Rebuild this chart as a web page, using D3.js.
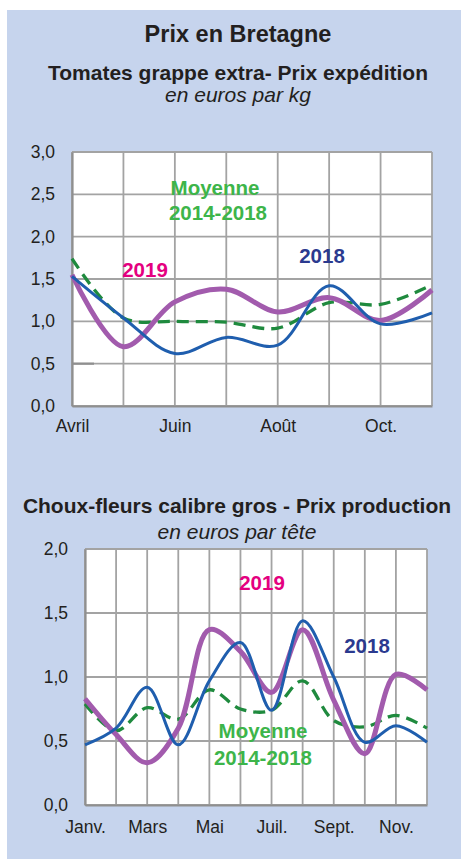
<!DOCTYPE html>
<html>
<head>
<meta charset="utf-8">
<script src="https://cdnjs.cloudflare.com/ajax/libs/d3/7.8.5/d3.min.js"></script>
<style>
  body { margin: 0; background: white; }
  text { font-family: "Liberation Sans", Arial, sans-serif; }
</style>
</head>
<body>
<svg id="chart" width="461" height="859"></svg>
<script>
  // --- data: tomates (avril -> nov.)
  let tomMonths = ["Avril", "Mai", "Juin", "Juil.", "Août", "Sept.", "Oct.", "Nov."];
  let tomLabels = ["Avril", "", "Juin", "", "Août", "", "Oct.", ""];
  let tom2019 = [1.55, 0.70, 1.23, 1.38, 1.11, 1.28, 1.01, 1.37];
  let tom2018 = [1.53, 1.04, 0.62, 0.81, 0.72, 1.42, 0.97, 1.10];
  let tomMoy  = [1.74, 1.04, 1.00, 0.99, 0.92, 1.22, 1.20, 1.43];
  let tomTicks = [0, 0.5, 1, 1.5, 2, 2.5, 3];

  // --- data: choux-fleurs (janv. -> déc.)
  let cfMonths = ["Janv.", "Févr.", "Mars", "Avril", "Mai", "Juin", "Juil.", "Août", "Sept.", "Oct.", "Nov.", "Déc."];
  let cfLabels = ["Janv.", "", "Mars", "", "Mai", "", "Juil.", "", "Sept.", "", "Nov.", ""];
  let cf2019 = [0.83, 0.55, 0.33, 0.60, 1.37, 1.20, 0.88, 1.37, 0.82, 0.40, 1.02, 0.90];
  let cf2018 = [0.47, 0.60, 0.92, 0.47, 0.97, 1.27, 0.74, 1.44, 1.00, 0.49, 0.62, 0.49];
  let cfMoy  = [0.79, 0.58, 0.76, 0.67, 0.90, 0.75, 0.74, 0.97, 0.66, 0.61, 0.70, 0.60];
  let cfTicks = [0, 0.5, 1, 1.5, 2];

  let svg = d3.select("#chart");
  let fr = d3.formatLocale({decimal: ",", thousands: " ", grouping: [3], currency: ["", " €"]});
  let fmt = fr.format(".1f");

  let colors = {y2019: "#a25bad", y2018: "#1f5eae", moy: "#1f8a3e",
                t2019: "#e4007f", t2018: "#2b3a8f", tmoy: "#3db54a"};

  // fond bleu
  svg.append("rect").attr("x", 7).attr("y", 10).attr("width", 454).attr("height", 849).attr("fill", "#c6d4ed");

  function title(txt, x, y, size, weight, style) {
    svg.append("text").attr("x", x).attr("y", y).attr("text-anchor", "middle")
      .style("font-size", size + "px").style("font-weight", weight).style("font-style", style || "normal")
      .attr("fill", "#231f20").text(txt);
  }
  title("Prix en Bretagne", 238, 42, 23.5, "bold");
  title("Tomates grappe extra- Prix expédition", 238, 80, 21, "bold");
  title("en euros par kg", 238, 102, 21, "normal", "italic");
  title("Choux-fleurs calibre gros - Prix production", 237, 513, 21, "bold");
  title("en euros par tête", 237, 539, 21, "normal", "italic");

  function drawChart(opt) {
    let x = d3.scalePoint().domain(opt.months).range([opt.left, opt.right]);
    let y = d3.scaleLinear().domain([0, opt.max]).range([opt.bottom, opt.top]);
    let g = svg.append("g");

    g.append("rect").attr("x", opt.left).attr("y", opt.top)
      .attr("width", opt.right - opt.left).attr("height", opt.bottom - opt.top).attr("fill", "white");

    // grille
    g.selectAll(".hgrid").data(opt.ticks).enter().append("line")
      .attr("x1", opt.left).attr("x2", opt.right)
      .attr("y1", d => y(d)).attr("y2", d => y(d))
      .attr("stroke", "#a3a3a3").attr("stroke-width", 1.8);
    g.selectAll(".vgrid").data(opt.months).enter().append("line")
      .attr("x1", d => x(d)).attr("x2", d => x(d))
      .attr("y1", opt.top).attr("y2", opt.bottom)
      .attr("stroke", "#a3a3a3").attr("stroke-width", 1.8);

    // axes
    let yAxis = d3.axisLeft(y).tickValues(opt.ticks).tickFormat(fmt).tickSize(0).tickPadding(17);
    let yg = g.append("g").attr("transform", "translate(" + opt.left + ",0)").call(yAxis);
    let xAxis = d3.axisBottom(x).tickFormat((d, i) => opt.labels[i]).tickSize(0).tickPadding(opt.xpad);
    let xg = g.append("g").attr("transform", "translate(0," + opt.bottom + ")").call(xAxis);
    [yg, xg].forEach(a => {
      a.select(".domain").attr("stroke", "#8f8f8f").attr("stroke-width", 2.2);
      a.selectAll("text").style("font-size", "17.5px").attr("fill", "#231f20")
        .style("font-family", "Liberation Sans, Arial, sans-serif");
    });

    let line = d3.line().x((d, i) => x(opt.months[i])).y(d => y(d)).curve(d3.curveCatmullRom.alpha(0.5));

    g.append("path").datum(opt.moy).attr("d", line).attr("fill", "none")
      .attr("stroke", colors.moy).attr("stroke-width", 3.3).attr("stroke-dasharray", "12,7");
    g.append("path").datum(opt.s2019).attr("d", line).attr("fill", "none")
      .attr("stroke", colors.y2019).attr("stroke-width", 5);
    g.append("path").datum(opt.s2018).attr("d", line).attr("fill", "none")
      .attr("stroke", colors.y2018).attr("stroke-width", 3);

    opt.notes.forEach(n => {
      g.append("text").attr("x", n.x).attr("y", n.y).attr("text-anchor", "middle")
        .style("font-size", "20.5px").style("font-weight", "bold").attr("fill", n.c).text(n.t);
    });
    return {x: x, y: y, g: g};
  }

  let tomChart = drawChart({
    months: tomMonths, labels: tomLabels, ticks: tomTicks, max: 3,
    left: 72, right: 432, top: 152, bottom: 406, xpad: 13.5,
    s2019: tom2019, s2018: tom2018, moy: tomMoy,
    notes: [
      {t: "Moyenne", x: 215, y: 195, c: colors.tmoy},
      {t: "2014-2018", x: 218, y: 220, c: colors.tmoy},
      {t: "2019", x: 145, y: 277, c: colors.t2019},
      {t: "2018", x: 322, y: 263, c: colors.t2018}
    ]
  });
  // petit trait gris au niveau 0,5
  tomChart.g.append("line").attr("x1", 72).attr("x2", 94).attr("y1", tomChart.y(0.5)).attr("y2", tomChart.y(0.5))
    .attr("stroke", "#8f8f8f").attr("stroke-width", 2.2);

  let cfChart = drawChart({
    months: cfMonths, labels: cfLabels, ticks: cfTicks, max: 2,
    left: 85, right: 427, top: 549, bottom: 805, xpad: 15.5,
    s2019: cf2019, s2018: cf2018, moy: cfMoy,
    notes: [
      {t: "2019", x: 262, y: 590, c: colors.t2019},
      {t: "2018", x: 367, y: 653, c: colors.t2018},
      {t: "Moyenne", x: 263, y: 738, c: colors.tmoy},
      {t: "2014-2018", x: 263, y: 765, c: colors.tmoy}
    ]
  });
</script>
</body>
</html>
